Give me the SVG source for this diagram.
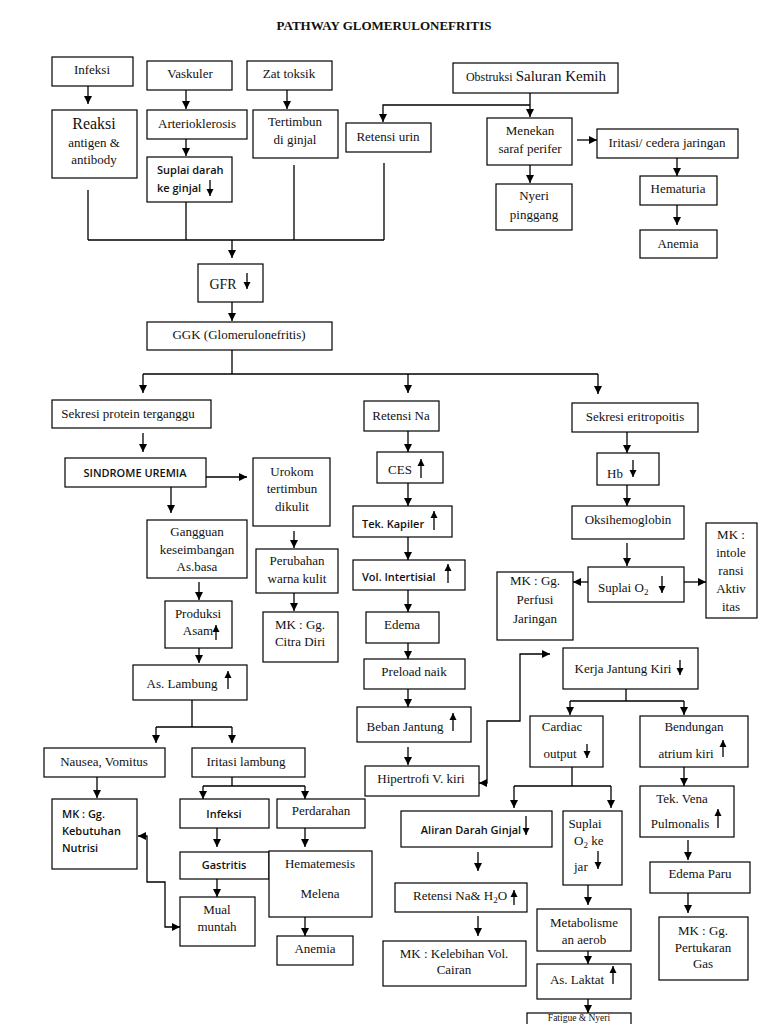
<svg xmlns="http://www.w3.org/2000/svg" width="768" height="1024" viewBox="0 0 768 1024">
<style>
rect{fill:#fff;stroke:#000;stroke-width:1.2}
text{font-family:"Liberation Serif","Times New Roman",serif;font-size:13px;fill:#111;text-anchor:middle}
.s{font-family:"Open Sans","Liberation Sans",sans-serif;font-size:11px;font-weight:600}
.l{text-anchor:start}
.c line,.c path,.ia{fill:none;stroke:#000;stroke-width:1.3}
</style>
<defs>
<marker id="a" markerUnits="userSpaceOnUse" markerWidth="9" markerHeight="9" refX="8" refY="4.5" orient="auto-start-reverse"><path d="M0,0.5 L8,4.5 L0,8.5 z" fill="#000"/></marker>
<marker id="b" markerUnits="userSpaceOnUse" markerWidth="8" markerHeight="8" refX="7" refY="4" orient="auto"><path d="M0,0.5 L7,4 L0,7.5 z" fill="#000"/></marker>
</defs>
<rect x="0" y="0" width="768" height="1024" style="fill:#fff;stroke:none"/>
<text x="384" y="30" style="font-weight:bold;font-size:13px">PATHWAY GLOMERULONEFRITIS</text>

<g id="n-infeksi"><rect x="52" y="57" width="81" height="29"/><text x="92" y="74">Infeksi</text></g>
<g id="n-reaksi"><rect x="52" y="110" width="85" height="68"/><text x="94" y="129" style="font-size:16px">Reaksi</text><text x="94" y="147">antigen &amp;</text><text x="94" y="164">antibody</text></g>
<g id="n-vaskuler"><rect x="147" y="61" width="85" height="29"/><text x="190" y="78">Vaskuler</text></g>
<g id="n-arterio"><rect x="147" y="110" width="100" height="29"/><text x="197" y="128">Arterioklerosis</text></g>
<g id="n-suplai-darah"><rect x="147" y="157" width="85" height="45"/><text class="s l" x="157" y="174">Suplai darah</text><text class="s l" x="157" y="192">ke ginjal</text><line class="ia" x1="210" y1="180" x2="210" y2="196" marker-end="url(#b)"/></g>
<g id="n-zat"><rect x="247" y="61" width="85" height="29"/><text x="289" y="78">Zat toksik</text></g>
<g id="n-tertimbun"><rect x="253" y="110" width="85" height="48"/><text x="295" y="126">Tertimbun</text><text x="295" y="144">di ginjal</text></g>
<g id="n-retensi-urin"><rect x="346" y="123" width="85" height="29"/><text x="388" y="141">Retensi urin</text></g>
<g id="n-obstruksi"><rect x="453" y="63" width="165" height="30"/><text x="536" y="81"><tspan style="font-size:12px">Obstruksi </tspan><tspan style="font-size:15px">Saluran Kemih</tspan></text></g>
<g id="n-menekan"><rect x="487" y="118" width="85" height="47"/><text x="530" y="135">Menekan</text><text x="530" y="153">saraf perifer</text></g>
<g id="n-iritasi"><rect x="597" y="129" width="141" height="29"/><text x="667" y="147">Iritasi/ cedera jaringan</text></g>
<g id="n-nyeri"><rect x="496" y="184" width="76" height="46"/><text x="534" y="200">Nyeri</text><text x="534" y="219">pinggang</text></g>
<g id="n-hematuria"><rect x="640" y="176" width="77" height="29"/><text x="678" y="193">Hematuria</text></g>
<g id="n-anemia1"><rect x="640" y="230" width="77" height="28"/><text x="678" y="248">Anemia</text></g>
<g id="n-gfr"><rect x="198" y="264" width="65" height="38"/><text x="223" y="289" style="font-size:14px">GFR</text><line class="ia" x1="247" y1="273" x2="247" y2="289" marker-end="url(#b)"/></g>
<g id="n-ggk"><rect x="147" y="322" width="185" height="28"/><text x="239" y="339">GGK (Glomerulonefritis)</text></g>
<g id="n-sekresi-protein"><rect x="52" y="400" width="159" height="28"/><text x="128" y="418">Sekresi protein terganggu</text></g>
<g id="n-retensi-na"><rect x="364" y="401" width="75" height="30"/><text x="401" y="420">Retensi Na</text></g>
<g id="n-sekresi-eritro"><rect x="572" y="403" width="126" height="29"/><text x="635" y="421">Sekresi eritropoitis</text></g>
<g id="n-sindrome"><rect x="65" y="458" width="141" height="29"/><text class="s" x="135" y="477">SINDROME UREMIA</text></g>
<g id="n-urokom"><rect x="253" y="458" width="77" height="68"/><text x="292" y="476">Urokom</text><text x="292" y="493">tertimbun</text><text x="292" y="511">dikulit</text></g>
<g id="n-ces"><rect x="377" y="452" width="66" height="31"/><text x="400" y="474">CES</text><line class="ia" x1="421" y1="478" x2="421" y2="459" marker-end="url(#b)"/></g>
<g id="n-tek-kapiler"><rect x="353" y="506" width="99" height="31"/><text class="s l" x="362" y="528">Tek. Kapiler</text><line class="ia" x1="434" y1="530" x2="434" y2="511" marker-end="url(#b)"/></g>
<g id="n-vol"><rect x="353" y="560" width="112" height="30"/><text class="s l" x="362" y="581">Vol. Intertisial</text><line class="ia" x1="448" y1="583" x2="448" y2="564" marker-end="url(#b)"/></g>
<g id="n-edema"><rect x="366" y="612" width="73" height="31"/><text x="402" y="629">Edema</text></g>
<g id="n-preload"><rect x="364" y="659" width="101" height="30"/><text x="414" y="676">Preload naik</text></g>
<g id="n-beban"><rect x="357" y="707" width="114" height="35"/><text x="405" y="731">Beban Jantung</text><line class="ia" x1="453" y1="731" x2="453" y2="713" marker-end="url(#b)"/></g>
<g id="n-hipertrofi"><rect x="365" y="766" width="114" height="30"/><text x="421" y="783">Hipertrofi V. kiri</text></g>
<g id="n-hb"><rect x="597" y="453" width="62" height="32"/><text x="615" y="478">Hb</text><line class="ia" x1="633" y1="460" x2="633" y2="477" marker-end="url(#b)"/></g>
<g id="n-oksi"><rect x="572" y="506" width="112" height="33"/><text x="628" y="524">Oksihemoglobin</text></g>
<g id="n-suplai-o2"><rect x="588" y="567" width="96" height="35"/><text x="598" y="592" class="l">Suplai O<tspan dy="3" style="font-size:9px">2</tspan></text><line class="ia" x1="662" y1="576" x2="662" y2="593" marker-end="url(#b)"/></g>
<g id="n-mk-perfusi"><rect x="497" y="572" width="76" height="68"/><text x="535" y="585">MK : Gg.</text><text x="535" y="604">Perfusi</text><text x="535" y="623">Jaringan</text></g>
<g id="n-mk-intoleransi"><rect x="706" y="523" width="51" height="95"/><text x="731" y="539">MK :</text><text x="731" y="557">intole</text><text x="731" y="575">ransi</text><text x="731" y="593">Aktiv</text><text x="731" y="611">itas</text></g>
<g id="n-perubahan"><rect x="256" y="549" width="82" height="44"/><text x="297" y="565">Perubahan</text><text x="297" y="583">warna kulit</text></g>
<g id="n-mk-citra"><rect x="263" y="612" width="75" height="50"/><text x="300" y="629">MK : Gg.</text><text x="300" y="646">Citra Diri</text></g>
<g id="n-gangguan"><rect x="147" y="520" width="100" height="58"/><text x="197" y="536">Gangguan</text><text x="197" y="554">keseimbangan</text><text x="197" y="571">As.basa</text></g>
<g id="n-produksi"><rect x="165" y="601" width="67" height="47"/><text x="198" y="618">Produksi</text><text x="198" y="635">Asam</text><line class="ia" x1="216" y1="640" x2="216" y2="625" marker-end="url(#b)"/></g>
<g id="n-as-lambung"><rect x="133" y="665" width="114" height="35"/><text x="182" y="688">As. Lambung</text><line class="ia" x1="228" y1="689" x2="228" y2="671" marker-end="url(#b)"/></g>
<g id="n-nausea"><rect x="44" y="748" width="121" height="29"/><text x="104" y="766">Nausea, Vomitus</text></g>
<g id="n-iritasi-lambung"><rect x="192" y="748" width="113" height="29"/><text x="246" y="766">Iritasi lambung</text></g>
<g id="n-mk-nutrisi"><rect x="52" y="799" width="85" height="70"/><text class="s l" x="62" y="818">MK : Gg.</text><text class="s l" x="62" y="835">Kebutuhan</text><text class="s l" x="62" y="852">Nutrisi</text></g>
<g id="n-infeksi2"><rect x="180" y="799" width="89" height="29"/><text class="s" x="224" y="818">Infeksi</text></g>
<g id="n-perdarahan"><rect x="277" y="799" width="88" height="29"/><text x="321" y="815">Perdarahan</text></g>
<g id="n-gastritis"><rect x="180" y="852" width="89" height="27"/><text class="s" x="224" y="869">Gastritis</text></g>
<g id="n-mual"><rect x="180" y="897" width="75" height="49"/><text x="217" y="914">Mual</text><text x="217" y="931">muntah</text></g>
<g id="n-hematemesis"><rect x="269" y="851" width="103" height="66"/><text x="320" y="868">Hematemesis</text><text x="320" y="898">Melena</text></g>
<g id="n-anemia2"><rect x="277" y="936" width="76" height="29"/><text x="315" y="953">Anemia</text></g>
<g id="n-kerja"><rect x="563" y="648" width="135" height="41"/><text x="623" y="673">Kerja Jantung Kiri</text><line class="ia" x1="680" y1="660" x2="680" y2="675" marker-end="url(#b)"/></g>
<g id="n-cardiac"><rect x="530" y="716" width="73" height="51"/><text x="562" y="731">Cardiac</text><text x="560" y="758">output</text><line class="ia" x1="587" y1="744" x2="587" y2="758" marker-end="url(#b)"/></g>
<g id="n-bendungan"><rect x="640" y="716" width="108" height="51"/><text x="694" y="731">Bendungan</text><text x="686" y="758">atrium kiri</text><line class="ia" x1="723" y1="757" x2="723" y2="740" marker-end="url(#b)"/></g>
<g id="n-aliran"><rect x="401" y="811" width="151" height="36"/><text class="s" x="471" y="834">Aliran Darah Ginjal</text><line class="ia" x1="526" y1="816" x2="526" y2="835" marker-end="url(#b)"/></g>
<g id="n-suplai-jar"><rect x="563" y="811" width="59" height="74"/><text x="585" y="828">Suplai</text><text class="l" x="574" y="845">O<tspan dy="3" style="font-size:9px">2</tspan><tspan dy="-3"> ke</tspan></text><text class="l" x="574" y="871">jar</text><line class="ia" x1="598" y1="851" x2="598" y2="869" marker-end="url(#b)"/></g>
<g id="n-retensi-nah2o"><rect x="395" y="883" width="132" height="29"/><text class="l" x="413" y="900">Retensi Na&amp; H<tspan dy="3" style="font-size:9px">2</tspan><tspan dy="-3">O</tspan></text><line class="ia" x1="514" y1="905" x2="514" y2="890" marker-end="url(#b)"/></g>
<g id="n-mk-kelebihan"><rect x="383" y="941" width="143" height="45"/><text x="454" y="958">MK : Kelebihan Vol.</text><text x="454" y="974">Cairan</text></g>
<g id="n-tek-vena"><rect x="640" y="786" width="94" height="51"/><text x="682" y="803">Tek. Vena</text><text x="680" y="828">Pulmonalis</text><line class="ia" x1="718" y1="828" x2="718" y2="809" marker-end="url(#b)"/></g>
<g id="n-metabolisme"><rect x="537" y="909" width="94" height="42"/><text x="584" y="927">Metabolisme</text><text x="584" y="944">an aerob</text></g>
<g id="n-edema-paru"><rect x="650" y="862" width="100" height="31"/><text x="700" y="878">Edema Paru</text></g>
<g id="n-laktat"><rect x="537" y="964" width="94" height="35"/><text x="577" y="984">As. Laktat</text><line class="ia" x1="613" y1="984" x2="613" y2="966" marker-end="url(#b)"/></g>
<g id="n-mk-gas"><rect x="659" y="917" width="89" height="63"/><text x="703" y="935">MK : Gg.</text><text x="703" y="952">Pertukaran</text><text x="703" y="968">Gas</text></g>
<g id="n-fatigue"><rect x="527" y="1013" width="104" height="30"/><text x="579" y="1021" style="font-size:9.5px">Fatigue &amp; Nyeri</text></g>

<g id="connectors" class="c">
<line x1="88" y1="86" x2="88" y2="104" marker-end="url(#a)"/>
<line x1="186" y1="90" x2="186" y2="109" marker-end="url(#a)"/>
<line x1="186" y1="139" x2="186" y2="156" marker-end="url(#a)"/>
<line x1="287" y1="90" x2="287" y2="109" marker-end="url(#a)"/>
<path d="M88,190 V240 M186,202 V240 M294,165 V240 M384,163 V240 M88,240 H384"/>
<line x1="232" y1="240" x2="232" y2="258" marker-end="url(#a)"/>
<line x1="530" y1="93" x2="530" y2="117" marker-end="url(#a)"/>
<path d="M530,105 H383 V122" marker-end="url(#a)"/>
<line x1="577" y1="140" x2="597" y2="140" marker-end="url(#a)"/>
<line x1="530" y1="165" x2="530" y2="183" marker-end="url(#a)"/>
<line x1="677" y1="158" x2="677" y2="176" marker-end="url(#a)"/>
<line x1="677" y1="205" x2="677" y2="225" marker-end="url(#a)"/>
<line x1="232" y1="302" x2="232" y2="321" marker-end="url(#a)"/>
<path d="M232,350 V374 M143,374 H598"/>
<line x1="143" y1="374" x2="143" y2="393" marker-end="url(#a)"/>
<line x1="408" y1="374" x2="408" y2="393" marker-end="url(#a)"/>
<line x1="598" y1="374" x2="598" y2="394" marker-end="url(#a)"/>
<line x1="143" y1="433" x2="143" y2="452" marker-end="url(#a)"/>
<line x1="206" y1="477" x2="247" y2="477" marker-end="url(#a)"/>
<line x1="171" y1="487" x2="171" y2="513" marker-end="url(#a)"/>
<line x1="294" y1="531" x2="294" y2="548" marker-end="url(#a)"/>
<line x1="294" y1="593" x2="294" y2="611" marker-end="url(#a)"/>
<line x1="199" y1="582" x2="199" y2="600" marker-end="url(#a)"/>
<line x1="199" y1="648" x2="199" y2="663" marker-end="url(#a)"/>
<path d="M192,700 V727 M156,727 H232"/>
<line x1="156" y1="727" x2="156" y2="743" marker-end="url(#a)"/>
<line x1="232" y1="727" x2="232" y2="743" marker-end="url(#a)"/>
<line x1="97" y1="777" x2="97" y2="798" marker-end="url(#a)"/>
<path d="M232,777 V786 M203,786 H305"/>
<line x1="203" y1="786" x2="203" y2="799" marker-end="url(#a)"/>
<line x1="305" y1="786" x2="305" y2="799" marker-end="url(#a)"/>
<line x1="217" y1="828" x2="217" y2="847" marker-end="url(#a)"/>
<line x1="217" y1="879" x2="217" y2="897" marker-end="url(#a)"/>
<line x1="305" y1="828" x2="305" y2="847" marker-end="url(#a)"/>
<line x1="305" y1="917" x2="305" y2="936" marker-end="url(#a)"/>
<path d="M138,836 H147 V882 H165 V927 H180" marker-start="url(#a)" marker-end="url(#a)"/>
<line x1="408" y1="431" x2="408" y2="452" marker-end="url(#a)"/>
<line x1="408" y1="483" x2="408" y2="506" marker-end="url(#a)"/>
<line x1="408" y1="537" x2="408" y2="560" marker-end="url(#a)"/>
<line x1="408" y1="590" x2="408" y2="612" marker-end="url(#a)"/>
<line x1="408" y1="643" x2="408" y2="659" marker-end="url(#a)"/>
<line x1="408" y1="689" x2="408" y2="707" marker-end="url(#a)"/>
<line x1="408" y1="747" x2="408" y2="765" marker-end="url(#a)"/>
<path d="M479,783 H487 V721 H520 V654 H550" marker-start="url(#a)" marker-end="url(#a)"/>
<line x1="627" y1="432" x2="627" y2="453" marker-end="url(#a)"/>
<line x1="627" y1="485" x2="627" y2="506" marker-end="url(#a)"/>
<line x1="627" y1="543" x2="627" y2="566" marker-end="url(#a)"/>
<line x1="588" y1="582" x2="573" y2="582" marker-end="url(#a)"/>
<line x1="684" y1="582" x2="706" y2="582" marker-end="url(#a)"/>
<path d="M626,689 V701 M570,701 H684"/>
<line x1="570" y1="701" x2="570" y2="715" marker-end="url(#a)"/>
<line x1="684" y1="701" x2="684" y2="715" marker-end="url(#a)"/>
<path d="M572,767 V786 M514,786 H611"/>
<line x1="514" y1="786" x2="514" y2="808" marker-end="url(#a)"/>
<line x1="611" y1="786" x2="611" y2="808" marker-end="url(#a)"/>
<line x1="684" y1="767" x2="684" y2="786" marker-end="url(#a)"/>
<line x1="478" y1="852" x2="478" y2="871" marker-end="url(#a)"/>
<line x1="478" y1="916" x2="478" y2="936" marker-end="url(#a)"/>
<line x1="588" y1="885" x2="588" y2="905" marker-end="url(#a)"/>
<line x1="588" y1="951" x2="588" y2="964" marker-end="url(#a)"/>
<line x1="588" y1="999" x2="588" y2="1013" marker-end="url(#a)"/>
<line x1="688" y1="840" x2="688" y2="860" marker-end="url(#a)"/>
<line x1="688" y1="893" x2="688" y2="913" marker-end="url(#a)"/>
</g>
</svg>
